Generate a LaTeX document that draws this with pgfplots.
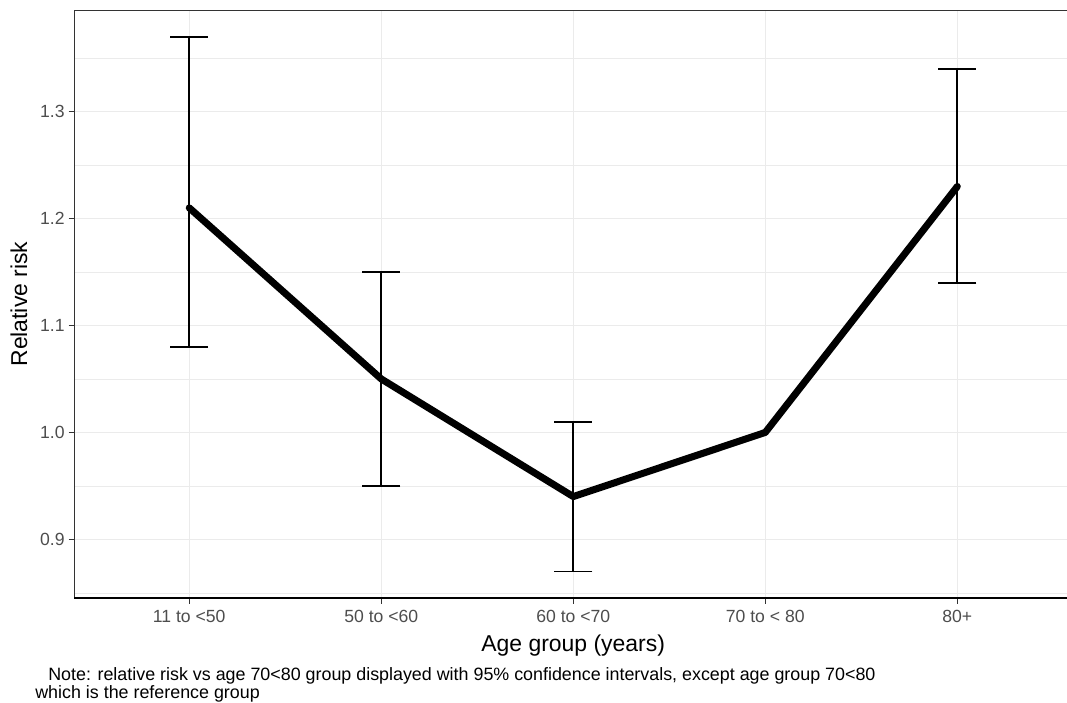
\documentclass[border=0pt]{standalone}
\usepackage{fontspec}
\setmainfont{Liberation Sans}
\usepackage{pgfplots}
\pgfplotsset{compat=1.18}
\definecolor{gridc}{HTML}{EBEBEB}
\definecolor{grayb}{HTML}{333333}
\definecolor{grayt}{HTML}{4D4D4D}
\begin{document}
\begin{tikzpicture}
\path[use as bounding box] (0,0) rectangle (800pt,526.5pt);
\begin{axis}[
  at={(55.5pt,78pt)}, anchor=south west,
  scale only axis, width=744.75pt, height=441pt,
  xmin=0.4, xmax=5.573, ymin=0.845, ymax=1.395,
  xtick={1,2,3,4,5},
  xticklabels={11 to <50, 50 to <60, 60 to <70, 70 to < 80, 80+},
  ytick={0.9,1.0,1.1,1.2,1.3},
  yticklabels={0.9,1.0,1.1,1.2,1.3},
  minor ytick={0.85,0.95,1.05,1.15,1.25,1.35},
  grid=both,
  major grid style={gridc, line width=0.85pt},
  minor grid style={gridc, line width=0.45pt},
  axis line style={draw=none},
  tick style={grayb, line width=0.75pt},
  tick align=outside, major tick length=4pt, minor tick length=0pt,
  xtick pos=bottom, ytick pos=left,
  tick label style={font=\fontsize{13.2}{15}\selectfont, text=grayt},
  xticklabel style={anchor=base, yshift=-14.5pt},
  yticklabel style={xshift=0.5pt},
  xlabel={Age group (years)}, ylabel={Relative risk},
  label style={font=\fontsize{17.2}{19}\selectfont},
  xlabel style={at={(axis description cs:0.5025,-0.0914)}, anchor=base},
  ylabel style={at={(axis description cs:-0.04733,0.5)}, anchor=base, rotate=0},
  clip=false,
  after end axis/.code={
    \draw[grayb, line width=0.75pt] (rel axis cs:0,0) -- (rel axis cs:0,1) -- (rel axis cs:1.01,1);
    \draw[black, line width=1.2pt] (rel axis cs:0,0) -- (rel axis cs:1.01,0);
  },
]
\addplot[draw=none, mark=none,
  error bars/.cd, y dir=both, y explicit,
  error bar style={draw=black, line width=1.35pt, solid},
  error mark options={draw=black, rotate=90, mark size=14.25pt, line width=1.35pt, solid}]
  coordinates {
    (1,1.21) += (0,0.16) -= (0,0.13)
    (2,1.05) += (0,0.10) -= (0,0.10)
    (3,0.94) += (0,0.07) -= (0,0.07)
    (5,1.23) += (0,0.11) -= (0,0.09)
  };
\addplot[black, line width=5.25pt, line join=round, line cap=round, mark=none]
  coordinates {(1,1.21) (2,1.05) (3,0.94) (4,1.00) (5,1.23)};
\end{axis}
\node[anchor=base west, inner sep=0pt, font=\fontsize{13.4}{15}\selectfont] at (36pt,16.5pt)
  {Note: relative risk vs age 70<80 group displayed with 95\% confidence intervals, except age group 70<80};
\node[anchor=base west, inner sep=0pt, font=\fontsize{13.4}{15}\selectfont] at (26.25pt,3pt)
  {which is the reference group};
\end{tikzpicture}
\end{document}
